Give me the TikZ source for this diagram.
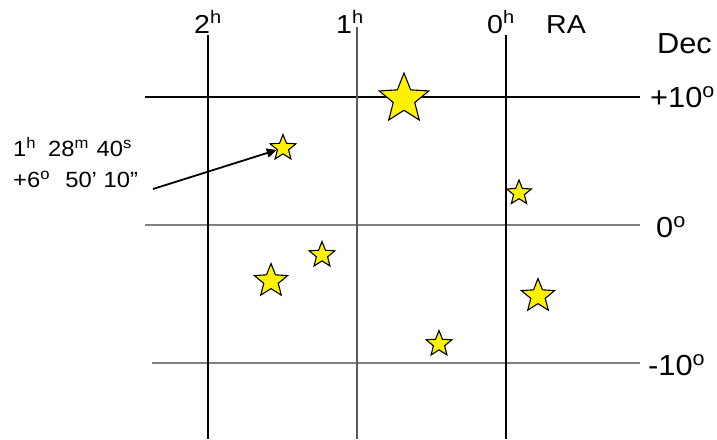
\documentclass[tikz,border=0pt]{standalone}
\usepackage{fontspec}
\setmainfont{Liberation Sans}
\usetikzlibrary{shapes.geometric,arrows.meta}
\newcommand\wx[2]{\scalebox{#1}[1]{#2}}
\begin{document}
\begin{tikzpicture}[x=1pt,y=-1pt,
  blk/.style={line width=1.4pt,black},
  gry/.style={line width=2.4pt,black!50},
  starnode/.style={star,star points=5,star point ratio=2.3,draw=black,line width=1.1pt,fill=yellow,inner sep=0pt,minimum size=#1},
  toplbl/.style={anchor=base west,inner sep=0pt,font=\fontsize{26}{30}\selectfont},
  rightlbl/.style={anchor=base west,inner sep=0pt,font=\fontsize{29}{34}\selectfont},
  leftlbl/.style={anchor=base west,inner sep=0pt,font=\fontsize{22}{26}\selectfont},
  ]
\useasboundingbox (0,0) rectangle (717,439);
% grid
\draw[blk] (145,97) -- (640,97);
\draw[gry] (145,225) -- (640,225);
\draw[gry] (152,363) -- (640,363);
\draw[blk] (208,35) -- (208,439);
\draw[line width=1.5pt,black!65] (357,27) -- (357,439);
\draw[blk] (506,35) -- (506,439);
% labels
\node[toplbl] (h2) at (194,33) {\wx{1.1}{2\textsuperscript{h}}};
\node[toplbl] (h1) at (336,33) {\wx{1.1}{1\textsuperscript{h}}};
\node[toplbl] (h0) at (487,33) {\wx{1.1}{0\textsuperscript{h}}};
\node[toplbl] (ra) at (546,33) {\wx{1.1}{RA}};
\node[rightlbl] (dec) at (657,53) {\wx{1.06}{Dec}};
\node[rightlbl] (p10) at (650,107) {\wx{1.06}{+10\textsuperscript{o}}};
\node[rightlbl] (z0) at (656,237) {\wx{1.06}{0\textsuperscript{o}}};
\node[rightlbl] (m10) at (648,375) {\wx{1.06}{-10\textsuperscript{o}}};
\node[leftlbl] (c1) at (13,156) {\wx{1.08}{1\textsuperscript{h}\hspace{5pt} 28\textsuperscript{m}\hspace{1pt} 40\textsuperscript{s}}};
\node[leftlbl] (c2) at (13,187) {\wx{1.08}{+6\textsuperscript{o}\hspace{8pt} 50’ 10”}};
% stars
\node[starnode=52] (s1) at (404,99) {};
\node[starnode=27] (s2) at (283,148) {};
\node[starnode=26] (s3) at (519,193) {};
\node[starnode=27] (s4) at (322,255) {};
\node[starnode=35] (s5) at (271,281) {};
\node[starnode=35] (s6) at (538,296) {};
\node[starnode=27] (s7) at (439,344) {};
% arrow
\coordinate (atail) at (153,189);
\draw[line width=1.8pt,-{Triangle[length=10pt,width=9pt]}] (atail) -- (s2);
\end{tikzpicture}
\end{document}
